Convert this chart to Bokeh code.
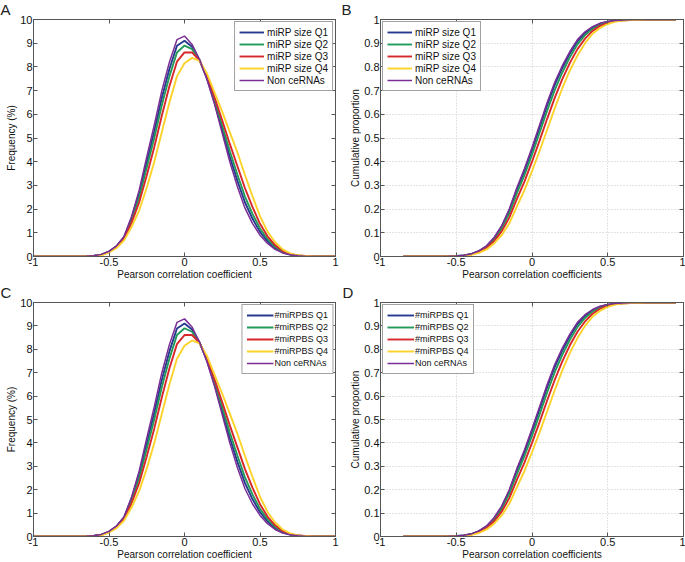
from bokeh.plotting import figure
from bokeh.models import (Range1d, FixedTicker, LinearAxis, CustomJSTickFormatter)
from bokeh.layouts import column, row
from bokeh.embed import file_html
from bokeh.resources import INLINE

# ---------------- data ----------------
x_freq = [-1.0, -0.95, -0.9, -0.85, -0.8, -0.75, -0.7, -0.65, -0.6, -0.55, -0.5, -0.45, -0.4,
          -0.35, -0.3, -0.25, -0.2, -0.15, -0.1, -0.05, 0.0, 0.05, 0.1, 0.15, 0.2, 0.25, 0.3,
          0.35, 0.4, 0.45, 0.5, 0.55, 0.6, 0.65, 0.7, 0.75, 0.8, 0.85, 0.9, 0.95, 1.0]
z7 = [0, 0, 0, 0, 0, 0, 0]
z4 = [0, 0, 0, 0]
freq_q1 = z7 + [0.01, 0.03, 0.08, 0.21, 0.43, 0.82, 1.62, 2.66, 3.98, 5.29, 6.7, 7.91, 8.89, 9.1, 8.85,
                8.29, 7.49, 6.49, 5.35, 4.21, 3.2, 2.29, 1.6, 1.04, 0.64, 0.35, 0.18, 0.08, 0.03, 0.01] + z4
freq_q2 = z7 + [0.01, 0.02, 0.08, 0.2, 0.42, 0.79, 1.54, 2.5, 3.75, 5.01, 6.39, 7.6, 8.61, 8.9, 8.75,
                8.28, 7.54, 6.58, 5.52, 4.44, 3.46, 2.54, 1.8, 1.18, 0.73, 0.41, 0.2, 0.09, 0.04, 0.01] + z4
freq_q3 = z7 + [0.0, 0.02, 0.07, 0.19, 0.4, 0.75, 1.43, 2.29, 3.42, 4.62, 5.95, 7.18, 8.22, 8.61, 8.61,
                8.27, 7.6, 6.7, 5.74, 4.75, 3.82, 2.89, 2.09, 1.38, 0.85, 0.48, 0.24, 0.11, 0.04, 0.02] + z4
freq_q4 = z7 + [0.0, 0.01, 0.05, 0.17, 0.36, 0.68, 1.25, 1.95, 2.9, 4.0, 5.25, 6.5, 7.6, 8.15, 8.38,
                8.25, 7.7, 6.9, 6.1, 5.25, 4.4, 3.45, 2.55, 1.7, 1.05, 0.6, 0.3, 0.13, 0.05, 0.02] + z4
freq_non = z7 + [0.01, 0.03, 0.09, 0.22, 0.45, 0.85, 1.7, 2.8, 4.2, 5.55, 7.0, 8.2, 9.15, 9.3, 8.95,
                 8.3, 7.45, 6.4, 5.2, 4.0, 2.95, 2.05, 1.4, 0.9, 0.55, 0.3, 0.15, 0.07, 0.03, 0.01] + z4

x_cum = [-0.85, -0.8, -0.75, -0.7, -0.65, -0.6, -0.55, -0.5, -0.45, -0.4, -0.35, -0.3, -0.25,
         -0.2, -0.15, -0.1, -0.05, 0.0, 0.05, 0.1, 0.15, 0.2, 0.25, 0.3, 0.35, 0.4, 0.45, 0.5,
         0.55, 0.6, 0.65, 0.7, 0.75, 0.8, 0.85, 0.9, 0.95]
cum_q1 = [0, 0, 0, 0, 0, 0.0005, 0.001, 0.002, 0.0048, 0.0106, 0.023, 0.0435, 0.0775, 0.126, 0.194,
          0.282, 0.361, 0.45, 0.544, 0.6385, 0.724, 0.7955, 0.857, 0.908, 0.943, 0.967, 0.982, 0.991,
          0.9955, 0.998, 0.999, 1, 1, 1, 1, 1, 1]
cum_q2 = [0, 0, 0, 0, 0, 0.0004, 0.0009, 0.0017, 0.0044, 0.0098, 0.021, 0.0405, 0.0725, 0.118, 0.182,
          0.266, 0.343, 0.43, 0.522, 0.6155, 0.702, 0.7765, 0.841, 0.895, 0.934, 0.961, 0.978, 0.989,
          0.9945, 0.997, 0.999, 1, 1, 1, 1, 1, 1]
cum_q3 = [0, 0, 0, 0, 0, 0.0002, 0.0007, 0.0014, 0.0038, 0.0086, 0.019, 0.036, 0.065, 0.106, 0.164,
          0.242, 0.316, 0.40, 0.489, 0.581, 0.669, 0.748, 0.817, 0.875, 0.919, 0.952, 0.973, 0.985,
          0.993, 0.997, 0.998, 0.999, 1, 1, 1, 1, 1]
cum_q4 = [0, 0, 0, 0, 0, 0, 0.0005, 0.001, 0.003, 0.007, 0.015, 0.03, 0.055, 0.09, 0.14,
          0.21, 0.28, 0.36, 0.445, 0.535, 0.625, 0.71, 0.785, 0.848, 0.9, 0.94, 0.965, 0.981,
          0.991, 0.996, 0.998, 0.999, 1, 1, 1, 1, 1]
cum_non = [0, 0, 0, 0, 0, 0.0005, 0.001, 0.002, 0.005, 0.011, 0.024, 0.045, 0.08, 0.13, 0.2,
           0.29, 0.37, 0.46, 0.555, 0.65, 0.735, 0.805, 0.865, 0.915, 0.948, 0.97, 0.984, 0.992,
           0.996, 0.998, 0.999, 1, 1, 1, 1, 1, 1]

x_ticks = [-1, -0.5, 0, 0.5, 1]
freq_ticks = [0, 1, 2, 3, 4, 5, 6, 7, 8, 9, 10]
cum_ticks = [0, 0.1, 0.2, 0.3, 0.4, 0.5, 0.6, 0.7, 0.8, 0.9, 1]

labels_size = ["miRP size Q1", "miRP size Q2", "miRP size Q3", "miRP size Q4", "Non ceRNAs"]
labels_bs = ["#miRPBS Q1", "#miRPBS Q2", "#miRPBS Q3", "#miRPBS Q4", "Non ceRNAs"]
colors = ["#263b8f", "#239a5a", "#d7272b", "#fcd32a", "#7b2d96"]
widths = [1.9, 1.9, 1.9, 1.9, 1.5]

FONT = "Liberation Sans"
AX = "#555555"


def style_axis(ax, ticks, show_labels=True):
    ax.ticker = FixedTicker(ticks=ticks)
    ax.formatter = CustomJSTickFormatter(code="return String(Math.round(tick*100)/100);")
    ax.major_tick_in = 4
    ax.major_tick_out = 0
    ax.minor_tick_in = 0
    ax.minor_tick_out = 0
    ax.axis_line_color = AX
    ax.major_tick_line_color = AX
    ax.major_label_text_font = FONT
    ax.axis_label_text_font = FONT
    ax.axis_label_text_font_style = "normal"
    ax.axis_label_text_color = "#111111"
    ax.axis_label_text_font_size = "10px"
    ax.axis_label_standoff = 0
    if show_labels:
        ax.major_label_text_color = "#111111"
        ax.major_label_text_font_size = "11px"
        ax.major_label_standoff = 1
    else:
        ax.major_label_text_color = None
        ax.major_label_text_font_size = "1px"
        ax.major_label_standoff = 0


def make_panel(width, height, bl, br, bt, bb, ymax, yticks, ylabel, xlabel,
               xs, series, labels, legend_loc, legend_font, glyph_w, standoff,
               grid, letter, letter_off):
    p = figure(width=width, height=height, x_range=Range1d(-1, 1), y_range=Range1d(0, ymax),
               output_backend="svg", toolbar_location=None,
               min_border_left=bl, min_border_right=br, min_border_top=bt, min_border_bottom=bb)
    p.background_fill_color = "white"
    p.border_fill_color = "white"
    p.outline_line_color = AX
    style_axis(p.xaxis[0], x_ticks)
    style_axis(p.yaxis[0], yticks)
    p.xaxis.axis_label = xlabel
    p.yaxis.axis_label = ylabel
    top = LinearAxis()
    style_axis(top, x_ticks, show_labels=False)
    right = LinearAxis()
    style_axis(right, yticks, show_labels=False)
    p.add_layout(top, "above")
    p.add_layout(right, "right")
    if grid:
        p.xgrid.ticker = FixedTicker(ticks=x_ticks)
        p.ygrid.ticker = FixedTicker(ticks=yticks)
        p.grid.grid_line_color = "#c8c8c8"
        p.grid.grid_line_dash = "1 2"
        p.grid.grid_line_width = 1
    else:
        p.grid.visible = False
    for ys, lab, c, w in zip(series, labels, colors, widths):
        p.line(xs, ys, line_color=c, line_width=w, legend_label=lab)
    lg = p.legend[0]
    lg.location = legend_loc
    lg.label_text_font = FONT
    lg.label_text_font_size = legend_font
    lg.label_text_color = "#111111"
    lg.glyph_width = glyph_w
    lg.glyph_height = 12
    lg.label_height = 12
    lg.label_standoff = standoff
    lg.spacing = 0
    lg.padding = 4
    lg.margin = 2
    lg.border_line_color = "#444444"
    lg.border_line_width = 1
    lg.background_fill_alpha = 1
    # panel letter as title, shifted left into the border
    p.title.text = letter
    p.title.text_font = FONT
    p.title.text_font_size = "15px"
    p.title.text_font_style = "normal"
    p.title.text_color = "#222222"
    p.title.align = "left"
    p.title.vertical_align = "top"
    p.title.offset = letter_off
    p.title.standoff = 0
    return p


freq_series = [freq_q1, freq_q2, freq_q3, freq_q4, freq_non]
cum_series = [cum_q1, cum_q2, cum_q3, cum_q4, cum_non]

pA = make_panel(340, 283, 33, 5, 17, 27, 10, freq_ticks, "Frequency (%)", "Pearson correlation coefficient",
                x_freq, freq_series, labels_size, "top_right", "10px", 25, 3, False, "A", -33)
pB = make_panel(345, 283, 40, 2, 17, 27, 1, cum_ticks, "Cumulative proportion", "Pearson correlation coefficients",
                x_cum, cum_series, labels_size, "top_left", "10px", 25, 3, True, "B", -39)
pC = make_panel(340, 279, 33, 5, 19, 24, 10, freq_ticks, "Frequency (%)", "Pearson correlation coefficient",
                x_freq, freq_series, labels_bs, "top_right", "9px", 27, 1, False, "C", -33)
pD = make_panel(345, 279, 40, 2, 19, 24, 1, cum_ticks, "Cumulative proportion", "Pearson correlation coefficients",
                x_cum, cum_series, labels_bs, "top_left", "9px", 27, 1, True, "D", -38)

layout = column(row(pA, pB), row(pC, pD))
open("out.html", "w").write(file_html(layout, INLINE))
